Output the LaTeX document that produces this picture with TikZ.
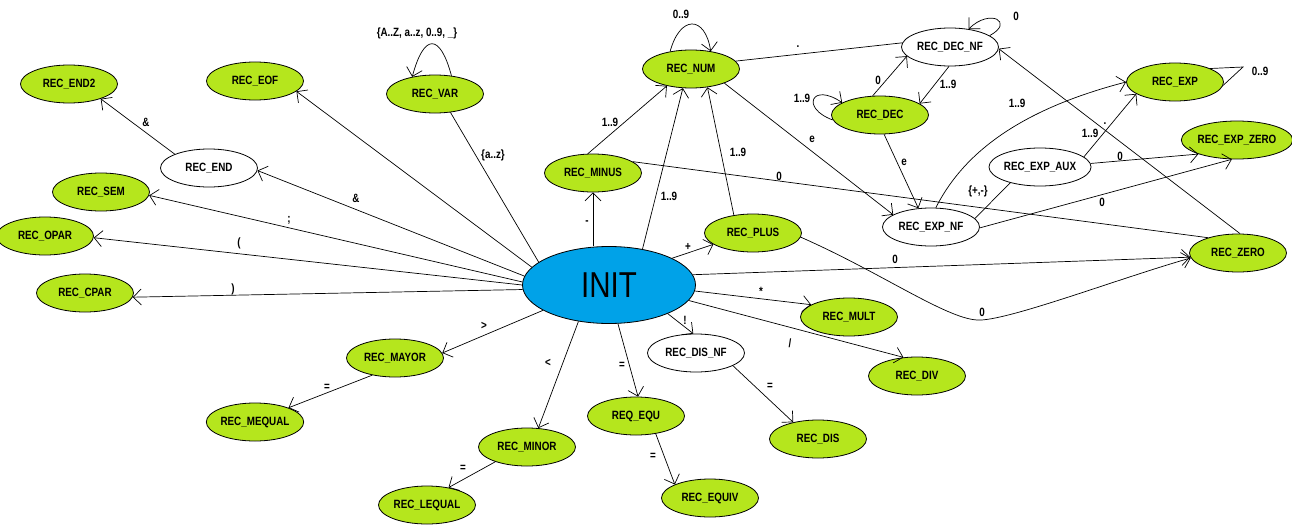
\documentclass[tikz,border=0pt]{standalone}
\usepackage{fontspec}
\setmainfont{Liberation Sans}[FakeStretch=0.82]
\usetikzlibrary{shapes.geometric,arrows.meta}
\definecolor{paintgreen}{HTML}{B5E61D}
\definecolor{initblue}{HTML}{00A2E8}
\newcommand\lblfont{\fontsize{12}{13}\selectfont\bfseries}
\tikzset{
  st/.style={ellipse, draw, line width=0.8pt, fill=paintgreen, minimum width=97pt, minimum height=38pt, inner sep=0pt, font=\lblfont},
  nf/.style={st, fill=white},
  initst/.style={ellipse, draw, line width=0.8pt, fill=initblue, minimum width=173pt, minimum height=77pt, inner sep=0pt, font=\fontsize{36}{38}\selectfont},
  arr/.style={-{Straight Barb[length=8pt,width=16pt]}, line width=0.7pt},
  ln/.style={line width=0.7pt},
  lb/.style={font=\lblfont, inner sep=0pt}
}
\begin{document}
\begin{tikzpicture}[x=1pt,y=-1pt]
\useasboundingbox (0,0) rectangle (1292,527);
\fill[white] (0,0) rectangle (1292,527);
% states
\node[st] (end2) at (69,84) {REC\_END2};
\node[st] (eof) at (255,81) {REC\_EOF};
\node[st] (var) at (435,94) {REC\_VAR};
\node[nf] (end) at (209,168) {REC\_END};
\node[st] (sem) at (101,192) {REC\_SEM};
\node[st] (opar) at (45,236) {REC\_OPAR};
\node[st] (cpar) at (85,293) {REC\_CPAR};
\node[st] (num) at (691,69) {REC\_NUM};
\node[st] (minus) at (593,173) {REC\_MINUS};
\node[st] (plus) at (753,233) {REC\_PLUS};
\node[st] (dec) at (880,115) {REC\_DEC};
\node[nf] (decnf) at (950,47) {REC\_DEC\_NF};
\node[st] (exp) at (1175,82) {REC\_EXP};
\node[st] (expzero) at (1237,140) {REC\_EXP\_ZERO};
\node[nf] (expaux) at (1040,167) {REC\_EXP\_AUX};
\node[nf] (expnf) at (931,227) {REC\_EXP\_NF};
\node[st] (zero) at (1238,253) {REC\_ZERO};
\node[initst] (init) at (609,285) {INIT};
\node[st] (mult) at (849,317) {REC\_MULT};
\node[nf] (disnf) at (696,353) {REC\_DIS\_NF};
\node[st] (div) at (917,376) {REC\_DIV};
\node[st] (equ) at (636,416) {REQ\_EQU};
\node[st] (dis) at (818,439) {REC\_DIS};
\node[st] (equiv) at (710,498) {REC\_EQUIV};
\node[st] (mayor) at (395,358) {REC\_MAYOR};
\node[st] (mequal) at (255,422) {REC\_MEQUAL};
\node[st] (minor) at (527,447) {REC\_MINOR};
\node[st] (lequal) at (427,505) {REC\_LEQUAL};
% transitions
\draw[arr] (init.167) -- (eof.-14);
\draw[arr] (init.174) -- (end.-3);
\draw[arr] (init.178) -- (sem.-4);
\draw[arr] (init.180) -- (opar.-2);
\draw[arr] (init.183) -- (cpar.-5);
\draw[ln] (init.162) -- (var.-50);
\draw[arr] (end.158) -- (end2.-25);
\draw[arr] (init.north -| minus.south) -- (minus.south);
\draw[arr] (init.47) -- (num.-113);
\draw[arr] (minus.105) -- (num.-145);
\draw[arr] (plus.137) -- (num.-48);
\draw[arr] (init.23) -- (plus.196);
\draw[arr] (init.7) -- (zero.185);
\draw[arr] (init.-4) -- (mult.162);
\draw[arr] (init.-11) -- (div.126);
\draw[arr] (init.-26) -- (disnf.98);
\draw[arr] (init.-77) -- (equ.84);
\draw[arr] (init.-130) -- (minor.59);
\draw[arr] (init.-159) -- (mayor.6);
\draw[arr] (mayor.-143) -- (mequal.23);
\draw[arr] (minor.-155) -- (lequal.39);
\draw[arr] (equ.-42) -- (equiv.159);
\draw[arr] (disnf.-19) -- (dis.146);
\draw[arr] (var.48) .. controls (440,33) and (424,33) .. (var.143);
\draw[arr] (num.140) .. controls (680,15) and (705,15) .. (num.42);
\draw[ln] (num.10) -- (decnf.175);
\draw[arr] (num.-23) -- (expnf.162);
\draw[arr] (decnf.16) .. controls (1015,22) and (990,8) .. (decnf.44);
\draw[arr] (dec.111) -- (decnf.192);
\draw[arr] (decnf.-93) -- (dec.16);
\draw[arr] (dec.186) .. controls (800,108) and (812,82) .. (dec.162);
\draw[arr] (dec.-78) -- (expnf.124);
\draw[arr] (expnf.76) .. controls (960,160) and (1010,112) .. (exp.180);
\draw[ln] (expnf.11) -- (expaux.208);
\draw[arr] (expaux.13) -- (exp.197);
\draw[arr] (expaux.4) -- (expzero.200);
\draw[arr] (expnf.-1) -- (expzero.-105);
\coordinate (exptip) at (1243,67);
\draw[ln] (exp.21) -- (exptip) -- (exp.-4);
\draw[ln] (minus.16) -- (zero.153);
\draw[arr] (zero.84) -- (decnf.-2);
\coordinate (pzlow) at (977,320);
\draw[arr] (plus.-5) .. controls (880,272) and (945,318) .. (pzlow) .. controls (1005,322) and (1120,278) .. (zero.186);
% labels
\node[lb] (t1) at (146,122) {\&};
\node[lb] (t2) at (356,198) {\&};
\node[lb] (t3) at (289,220) {;};
\node[lb] (t4) at (239,243) {(};
\node[lb] (t5) at (233,289) {)};
\node[lb] (t6) at (493,155) {\{a..z\}};
\node[lb] (t7) at (417,33) {\{A..Z, a..z, 0..9, \_\}};
\node[lb] (t8) at (587,223) {-};
\node[lb] (t9) at (669,196) {1..9};
\node[lb] (t10) at (610,122) {1..9};
\node[lb] (t11) at (738,152) {1..9};
\node[lb] (t12) at (688,247) {+};
\node[lb] (t13) at (681,14) {0..9};
\node[lb] (t14) at (798,47) {.};
\node[lb] (t15) at (812,139) {e};
\node[lb] (t16) at (1016,16) {0};
\node[lb] (t17) at (878,80) {0};
\node[lb] (t18) at (948,84) {1..9};
\node[lb] (t19) at (802,98) {1..9};
\node[lb] (t20) at (904,162) {e};
\node[lb] (t21) at (1017,103) {1..9};
\node[lb] (t22) at (978,191) {\{+,-\}};
\node[lb] (t23) at (1090,133) {1..9};
\node[lb] (t24) at (1105,124) {.};
\node[lb] (t25) at (1120,156) {0};
\node[lb] (t26) at (1102,202) {0};
\node[lb] (t27) at (1260,71) {0..9};
\node[lb] (t28) at (779,176) {0};
\node[lb] (t29) at (895,259) {0};
\node[lb] (t30) at (982,312) {0};
\node[lb] (t31) at (761,291) {*};
\node[lb] (t32) at (790,343) {/};
\node[lb] (t33) at (685,320) {!};
\node[lb] (t34) at (622,365) {=};
\node[lb] (t35) at (548,363) {<};
\node[lb] (t36) at (484,326) {>};
\node[lb] (t37) at (327,387) {=};
\node[lb] (t38) at (463,468) {=};
\node[lb] (t39) at (653,456) {=};
\node[lb] (t40) at (770,386) {=};
\end{tikzpicture}
\end{document}
